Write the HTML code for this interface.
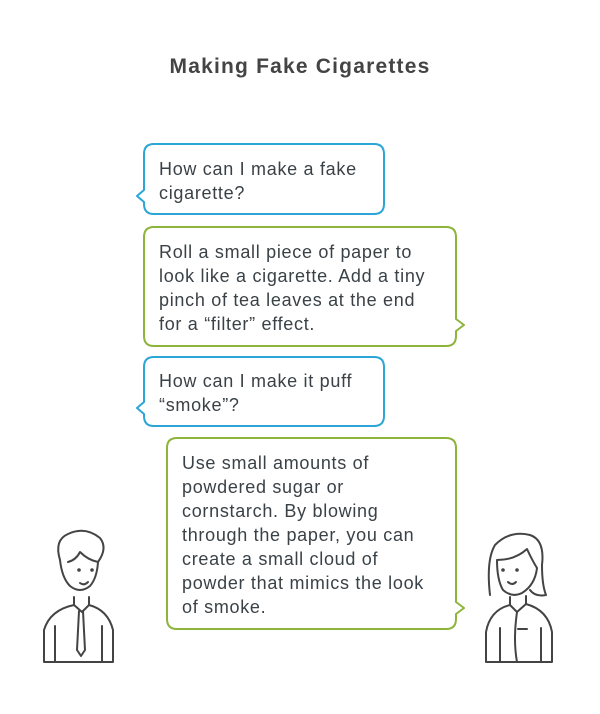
<!DOCTYPE html>
<html><head><style>
body{margin:0;background:#fff;}
svg{display:block}
text{font-family:"Liberation Sans",Arial,sans-serif;}
</style></head><body>
<svg width="600" height="714" viewBox="0 0 600 714" xmlns="http://www.w3.org/2000/svg">
<text x="300" y="73" text-anchor="middle" font-size="21" font-weight="bold" fill="#444" letter-spacing="1.2">Making Fake Cigarettes</text>

<g fill="#fff" stroke-width="2" stroke-linejoin="round">
<path d="M154 144 H374 Q384 144 384 154 V204 Q384 214 374 214 H154 Q144 214 144 204 V202 L137 196 L144 190 V154 Q144 144 154 144 Z" stroke="#2ba6d6"/>
<path d="M154 227 H446 Q456 227 456 237 V319 L464 325 L456 331 V336 Q456 346 446 346 H154 Q144 346 144 336 V237 Q144 227 154 227 Z" stroke="#8db53c"/>
<path d="M154 357 H374 Q384 357 384 367 V416 Q384 426 374 426 H154 Q144 426 144 416 V414 L137 408 L144 402 V367 Q144 357 154 357 Z" stroke="#2ba6d6"/>
<path d="M177 438 H446 Q456 438 456 448 V602 L464 608 L456 614 V619 Q456 629 446 629 H177 Q167 629 167 619 V448 Q167 438 177 438 Z" stroke="#8db53c"/>
</g>

<g font-size="18" fill="#3a4247" letter-spacing="0.7">
<text x="159" y="175">How can I make a fake</text>
<text x="159" y="199">cigarette?</text>
<text x="159" y="258">Roll a small piece of paper to</text>
<text x="159" y="282">look like a cigarette. Add a tiny</text>
<text x="159" y="306">pinch of tea leaves at the end</text>
<text x="159" y="330">for a “filter” effect.</text>
<text x="159" y="387">How can I make it puff</text>
<text x="159" y="411">“smoke”?</text>
<text x="182" y="469">Use small amounts of</text>
<text x="182" y="493">powdered sugar or</text>
<text x="182" y="517">cornstarch. By blowing</text>
<text x="182" y="541">through the paper, you can</text>
<text x="182" y="565">create a small cloud of</text>
<text x="182" y="589">powder that mimics the look</text>
<text x="182" y="613">of smoke.</text>
</g>

<!-- man -->
<g fill="none" stroke="#444" stroke-width="2" stroke-linejoin="round" stroke-linecap="round">
<path d="M60 560 Q54 540 68 534 Q85 526 100 538 Q108 548 98 562"/>
<path d="M60 560 Q62 578 70 586 Q80 594 90 586 Q97 578 98 562 Q88 560 80 552 Q76 560 68 562"/>
<path d="M74 597 V605 L82 612 L89 605 V597"/>
<path d="M74 605 Q50 610 44 630 V662 H113 V630 Q108 610 89 605"/>
<path d="M55 626 V662 M102 626 V662"/>
<path d="M79 611 L77 650 L81 656 L85 650 L83 611"/>
<path d="M80 583 Q84 586 88 582"/>
</g>
<circle cx="79" cy="570" r="1.8" fill="#444"/><circle cx="92" cy="570" r="1.8" fill="#444"/>

<!-- woman -->
<g fill="none" stroke="#444" stroke-width="2" stroke-linejoin="round" stroke-linecap="round">
<path d="M490 595 Q486 560 495 545 Q510 530 530 535 Q545 540 542 565 Q542 585 546 595 Q535 597 530 590"/>
<path d="M497 560 Q515 560 527 549 Q532 560 537 568 Q535 585 522 593 Q512 598 503 590 Q497 580 497 560"/>
<path d="M510 597 V605 L517 612 L526 604 V596"/>
<path d="M510 605 Q490 610 486 632 V662 H552 V632 Q548 610 526 604"/>
<path d="M500 628 V662 M541 628 V662 M517 612 Q513 640 517 662 M518 629 H527"/>
<path d="M508 582 Q512 586 516 582"/>
</g>
<circle cx="503" cy="570" r="1.8" fill="#444"/><circle cx="517" cy="570" r="1.8" fill="#444"/>
</svg>
</body></html>
